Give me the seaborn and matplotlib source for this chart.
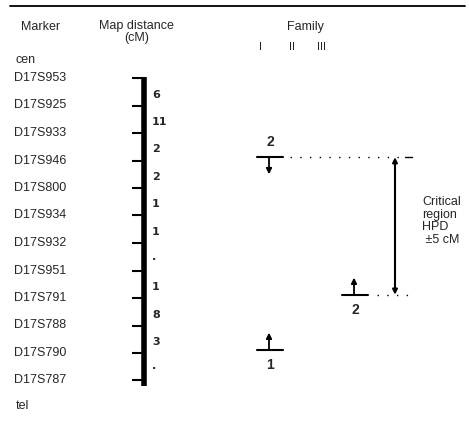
"""
Carte génétique 17q - région critique HPD
"""
import numpy as np
import pandas as pd
import matplotlib
matplotlib.use("Agg")
import matplotlib.pyplot as plt
import seaborn as sns

# ── Données ───────────────────────────────────────────────────────────────────

markers = ["D17S953", "D17S925", "D17S933", "D17S946", "D17S800", "D17S934",
           "D17S932", "D17S951", "D17S791", "D17S788", "D17S790", "D17S787"]
# distances entre marqueurs consécutifs (cM), illisibles notées "·"
distances = ["6", "11", "2", "2", "1", "1", "·", "1", "8", "3", "·"]

families = ["I", "II", "III"]
bp_family = ["I", "I", "III"]
bp_marker = ["D17S946", "D17S790", "D17S791"]
bp_recomb = [2, 1, 2]
bp_direction = ["down", "up", "up"]

critical_top = "D17S946"
critical_bottom = "D17S791"
critical_label = "Critical\nregion\nHPD\n ±5 cM"

# ── Mise en page ──────────────────────────────────────────────────────────────

sns.set_theme(style="white")
plt.rcParams["font.family"] = ["Liberation Sans", "DejaVu Sans"]

W, H = 469, 425
Y0, STEP = 78, 27.5  # position du premier marqueur, pas entre marqueurs (px)


def py(y):
    """pixel vertical -> indice de marqueur"""
    return (y - Y0) / STEP


pos = {m: i for i, m in enumerate(markers)}
df = pd.DataFrame({"marker": markers, "pos": np.arange(len(markers))})

fig = plt.figure(figsize=(W / 100, H / 100), dpi=100)
ax = fig.add_axes([0, 0, 1, 1])
ax.set_xlim(0, W)
ax.set_ylim(py(H), py(0))
ax.axis("off")

fs = 9
col_x = {"I": 261, "II": 292, "III": 322}
mark_x = {"I": 270, "II": 312, "III": 355}
bar_x = 143

# filet du haut
ax.plot([10, 465], [py(6), py(6)], color="black", lw=1.3)

# en-têtes
ax.text(41, py(27), "Marker", fontsize=fs, ha="center", va="center")
ax.text(136, py(26), "Map distance", fontsize=fs, ha="center", va="center")
ax.text(137, py(38), "(cM)", fontsize=fs, ha="center", va="center")
ax.text(305, py(27), "Family", fontsize=fs, ha="center", va="center")
for f in families:
    ax.text(col_x[f], py(47), f, fontsize=fs - 1, ha="center", va="center")

ax.text(15, py(60), "cen", fontsize=fs, ha="left", va="center")
ax.text(16, py(406), "tel", fontsize=fs, ha="left", va="center")

# marqueurs + chromosome
for _, r in df.iterrows():
    ax.text(14, r["pos"], r["marker"], fontsize=fs, ha="left", va="center")
ax.hlines(df["pos"], bar_x - 11, bar_x, color="black", lw=1.5)
ax.vlines(bar_x + 1, df["pos"].min() - 0.05, df["pos"].max() + 0.2,
          color="black", lw=4)

for i, d in enumerate(distances):
    ax.text(152, i + 0.6, d, fontsize=8, ha="left", va="center",
            family="DejaVu Sans", fontweight="bold")

# points de recombinaison
for f, m, n, d in zip(bp_family, bp_marker, bp_recomb, bp_direction):
    x = mark_x[f]
    y = pos[m] - 0.12
    ax.plot([x - 13, x + 13], [y, y], color="black", lw=1.5)
    sgn = 1 if d == "down" else -1
    ax.annotate("", xy=(x - 1, y + sgn * 0.62), xytext=(x - 1, y),
                arrowprops=dict(arrowstyle="-|>", color="black", lw=1.3,
                                mutation_scale=8, shrinkA=0, shrinkB=0))
    ax.text(x, y - sgn * 0.55, str(n), fontsize=fs + 1, ha="center",
            va="center", fontweight="bold")

# région critique
y_top = pos[critical_top] - 0.12
y_bot = pos[critical_bottom] - 0.12
ax.plot([mark_x["I"] + 20, 405], [y_top, y_top], color="black", lw=1,
        ls=(0, (1, 6)))
ax.plot([mark_x["III"] + 22, 410], [y_bot, y_bot], color="black", lw=1,
        ls=(0, (1, 6)))
ax.plot([405, 412], [y_top, y_top], color="black", lw=1)
ax.annotate("", xy=(395, y_top), xytext=(395, y_bot),
            arrowprops=dict(arrowstyle="<|-|>", color="black", lw=1.5,
                            mutation_scale=7, shrinkA=0, shrinkB=0))
ax.text(422, py(221), critical_label, fontsize=fs, ha="left", va="center",
        linespacing=1.1)

fig.savefig("out.png", dpi=100)
